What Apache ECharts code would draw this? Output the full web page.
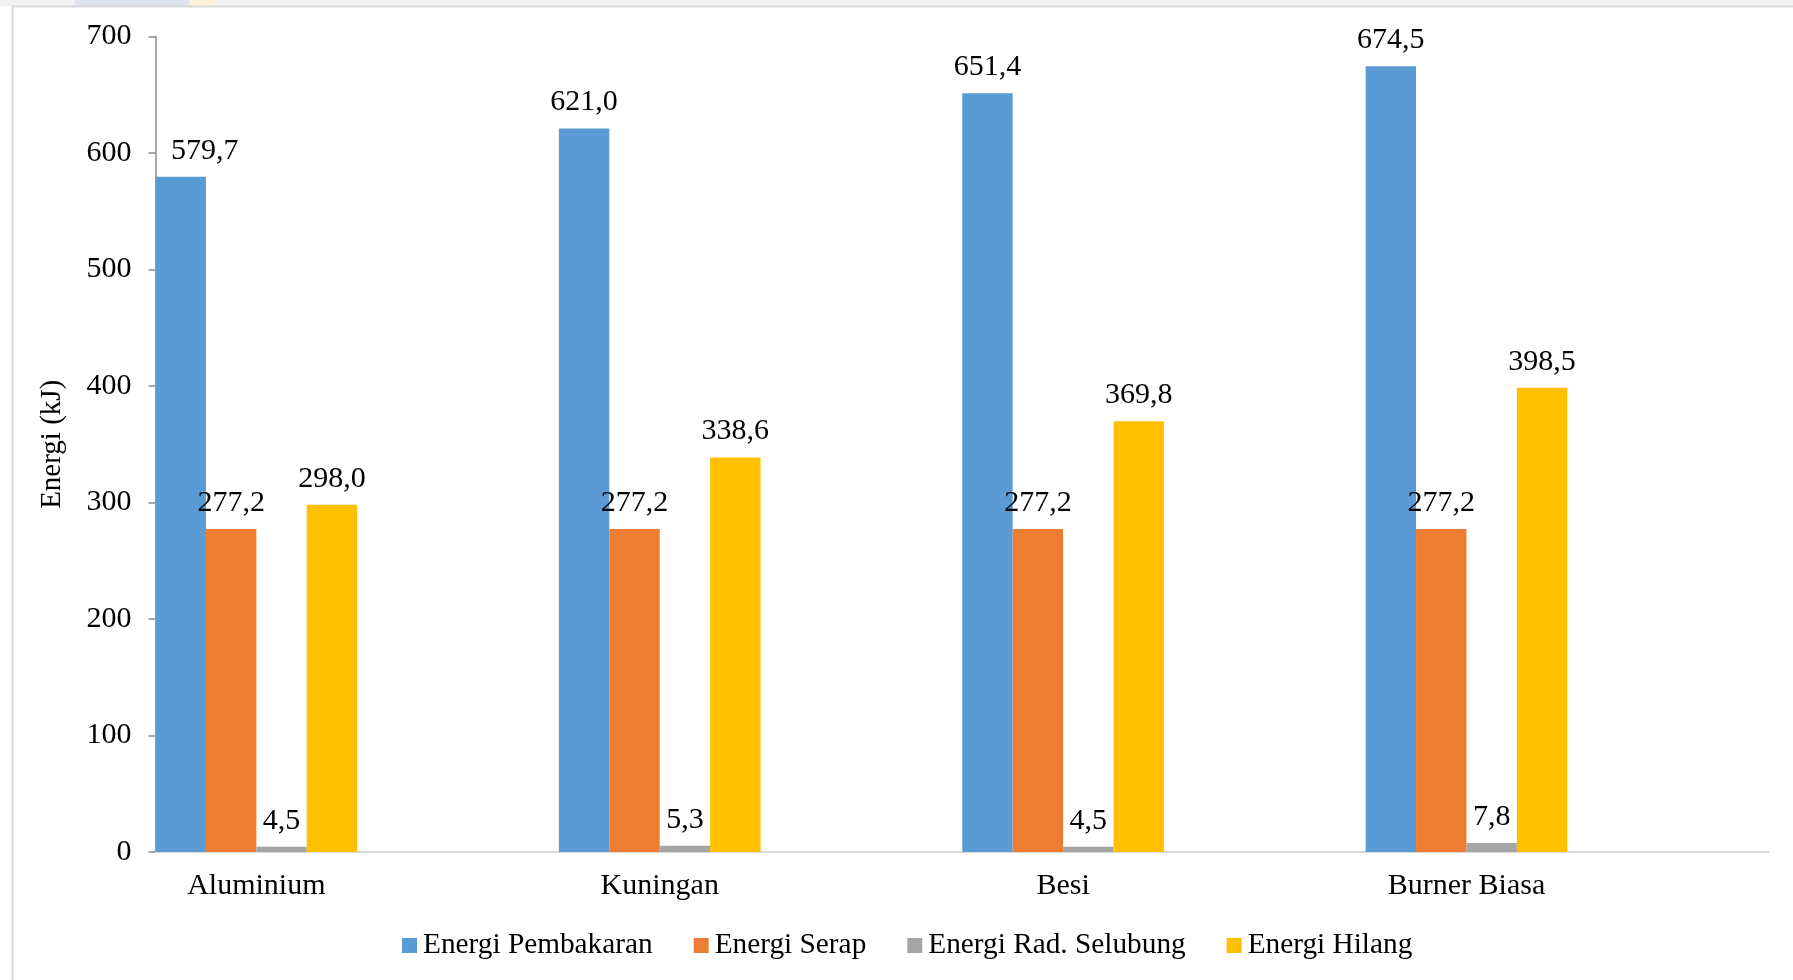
<!DOCTYPE html>
<html>
<head>
<meta charset="utf-8">
<script src="https://cdn.jsdelivr.net/npm/echarts@6/dist/echarts.min.js"></script>
<style>
  html, body { margin: 0; padding: 0; background: #fff; }
  #chart { width: 1793px; height: 980px; }
</style>
</head>
<body>
<div id="chart"></div>
<script>
// Energy balance per burner material (kJ)
const categories = ['Aluminium', 'Kuningan', 'Besi', 'Burner Biasa'];
const seriesNames = ['Energi Pembakaran', 'Energi Serap', 'Energi Rad. Selubung', 'Energi Hilang'];
const energiPembakaran = [579.7, 621.0, 651.4, 674.5];
const energiSerap = [277.2, 277.2, 277.2, 277.2];
const energiRadSelubung = [4.5, 5.3, 4.5, 7.8];
const energiHilang = [298.0, 338.6, 369.8, 398.5];
const yTicks = [0, 100, 200, 300, 400, 500, 600, 700];

const colors = ['#5b9bd5', '#ed7d31', '#a5a5a5', '#ffc000'];
const serif = 'Liberation Serif';

// Each group sits in the left half of a wide slot: pad every category with an empty slot
const axisCategories = categories.flatMap(c => [c, '']);

// The first "Energi Pembakaran" label was nudged to the right
const labelNudge = { 0: { 0: [24, 0] } };

function buildSeries(values, idx) {
  const data = values.flatMap((v, i) => {
    const nudge = labelNudge[idx] && labelNudge[idx][i];
    const item = nudge ? { value: v, label: { offset: nudge } } : v;
    return [item, null];
  });
  return {
    name: seriesNames[idx],
    type: 'bar',
    data: data,
    barGap: '0%',
    barCategoryGap: '0%',
    itemStyle: { color: colors[idx] },
    label: {
      show: true,
      position: 'top',
      distance: 11,
      fontFamily: serif,
      fontSize: 30,
      color: '#000',
      formatter: p => p.value == null ? '' : Number(p.value).toFixed(1).replace('.', ',')
    },
    z: 2
  };
}

const chart = echarts.init(document.getElementById('chart'), null, { renderer: 'canvas' });

chart.setOption({
  animation: false,
  backgroundColor: '#fff',
  textStyle: { fontFamily: serif },
  grid: { left: 155.5, right: 24, top: 36.6, bottom: 128, containLabel: false },
  legend: {
    left: 397,
    top: 926,
    itemWidth: 15,
    itemHeight: 15,
    itemGap: 41,
    icon: 'rect',
    textStyle: { fontFamily: serif, fontSize: 29.3, color: '#000', padding: [0, 0, 0, 1] },
    data: seriesNames
  },
  xAxis: {
    type: 'category',
    data: axisCategories,
    axisLine: { lineStyle: { color: '#d9d9d9', width: 2 } },
    axisTick: { show: false },
    axisLabel: { interval: 0, fontFamily: serif, fontSize: 30, color: '#000', margin: 19 },
    splitLine: { show: false }
  },
  yAxis: {
    type: 'value',
    min: yTicks[0],
    max: yTicks[yTicks.length - 1],
    interval: yTicks[1] - yTicks[0],
    name: 'Energi (kJ)',
    nameLocation: 'middle',
    nameGap: 89,
    nameRotate: 90,
    nameTextStyle: { fontFamily: serif, fontSize: 29, color: '#000' },
    axisLine: { show: true, lineStyle: { color: '#8c8c8c', width: 1.5 } },
    axisTick: { show: true, inside: false, length: 7, lineStyle: { color: '#8c8c8c', width: 1.5 } },
    axisLabel: { fontFamily: serif, fontSize: 30, color: '#000', margin: 24 },
    splitLine: { show: false }
  },
  graphic: [
    // faint strip along the top edge
    { type: 'rect', shape: { x: 0, y: 0, width: 1793, height: 6 }, style: { fill: '#f1f1f1' }, silent: true },
    { type: 'rect', shape: { x: 75, y: 0, width: 114, height: 6 }, style: { fill: '#dfe3ee' }, silent: true },
    { type: 'rect', shape: { x: 189, y: 0, width: 26, height: 6 }, style: { fill: '#fcf0da' }, silent: true },
    // outer frame lines (top and left)
    { type: 'line', shape: { x1: 12, y1: 6.5, x2: 1793, y2: 6.5 }, style: { stroke: '#d9d9d9', lineWidth: 2 }, silent: true },
    { type: 'line', shape: { x1: 12.5, y1: 6, x2: 12.5, y2: 980 }, style: { stroke: '#d9d9d9', lineWidth: 2 }, silent: true }
  ],
  series: [energiPembakaran, energiSerap, energiRadSelubung, energiHilang].map(buildSeries)
});
</script>
</body>
</html>
